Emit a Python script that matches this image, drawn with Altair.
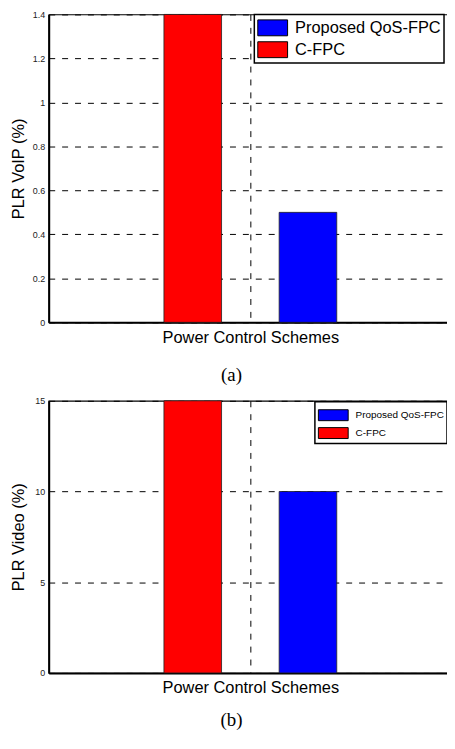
import altair as alt
import pandas as pd

# ---- data ----
schemes = ["Proposed QoS-FPC", "C-FPC"]
colors = ["#0000ff", "#ff0000"]
group = "Power Control Schemes"
plr_voip = [0.5, 1.4]      # PLR VoIP (%)
plr_video = [10, 15]       # PLR Video (%)
voip_ticks = [0, 0.2, 0.4, 0.6, 0.8, 1.0, 1.2, 1.4]
video_ticks = [0, 5, 10, 15]

SANS = "Liberation Sans"
SERIF = "Liberation Serif"
W = 406

df_voip = pd.DataFrame({"group": [group] * 2, "scheme": schemes, "value": plr_voip})
df_video = pd.DataFrame({"group": [group] * 2, "scheme": schemes, "value": plr_video})

order_x = ["C-FPC", "Proposed QoS-FPC"]


def panel(df, ytitle, ydomain, yticks, yfmt, h, leg, caption, cap_off):
    legend = alt.Legend(
        title=None,
        orient="none",
        legendX=leg["x"],
        legendY=leg["y"],
        symbolType=leg["path"],
        symbolSize=400,
        symbolOffset=5,
        symbolStrokeColor="black",
        symbolStrokeWidth=1,
        symbolOpacity=1,
        labelFont=SANS,
        labelFontSize=leg["fs"],
        labelColor="black",
        labelOffset=12,
        rowPadding=leg["rp"],
        padding=leg["pad"],
        strokeColor="black",
        fillColor="white",
    )
    color = alt.Color(
        "scheme:N",
        scale=alt.Scale(domain=schemes, range=colors),
        legend=legend,
    )
    return (
        alt.Chart(df)
        .mark_bar(stroke="#222222", strokeWidth=0.8, opacity=1)
        .encode(
            x=alt.X(
                "group:N",
                scale=alt.Scale(paddingInner=0, paddingOuter=2 / 3),
                axis=alt.Axis(
                    title=group,
                    labels=False,
                    ticks=False,
                    domain=True,
                    domainColor="black",
                    domainWidth=2,
                    grid=True,
                    bandPosition=0.5,
                    gridColor="black",
                    gridDash=[6, 7],
                    gridWidth=1,
                    titleFont=SANS,
                    titleFontSize=16.5,
                    titleFontWeight="normal",
                    titleColor="black",
                    titlePadding=7,
                ),
            ),
            xOffset=alt.XOffset(
                "scheme:N",
                sort=order_x,
                scale=alt.Scale(paddingInner=0.5, paddingOuter=0),
            ),
            y=alt.Y(
                "value:Q",
                scale=alt.Scale(domain=ydomain, nice=False, zero=True),
                axis=alt.Axis(
                    title=ytitle,
                    values=yticks,
                    format=yfmt,
                    ticks=False,
                    domain=True,
                    domainColor="black",
                    domainWidth=2,
                    grid=True,
                    gridColor="black",
                    gridDash=[6, 7],
                    gridWidth=1,
                    labelFont=SANS,
                    labelFontSize=9,
                    labelColor="#222222",
                    labelPadding=4,
                    minExtent=20,
                    maxExtent=20,
                    titleFont=SANS,
                    titleFontSize=16.5,
                    titleFontWeight="normal",
                    titleColor="black",
                    titlePadding=2,
                ),
            ),
            color=color,
        )
        .properties(
            width=W,
            height=h,
            title=alt.TitleParams(
                caption,
                orient="bottom",
                anchor="middle",
                frame="bounds",
                font=SERIF,
                fontSize=19,
                fontWeight="normal",
                color="black",
                offset=cap_off,
            ),
        )
    )


leg_a = {"x": 207, "y": 0, "path": "M-1.5,-0.8H1.5V0.8H-1.5Z", "fs": 16.5, "rp": 1, "pad": 3}
leg_b = {"x": 268, "y": 1, "path": "M-1.5,-0.55H1.5V0.55H-1.5Z", "fs": 10, "rp": -4, "pad": 3}

top = panel(df_voip, "PLR VoIP (%)", [0, 1.4], voip_ticks, ".1~f", 310, leg_a, "(a)", 21)
bottom = panel(df_video, "PLR Video (%)", [0, 15], video_ticks, "d", 274, leg_b, "(b)", 15)

chart = (
    alt.vconcat(top, bottom, spacing=9)
    .resolve_scale(color="independent", y="independent", x="independent")
    .resolve_legend(color="independent")
    .configure_view(stroke="black", strokeWidth=1.2)
    .configure_legend(strokeWidth=1.5)
    .properties(padding={"left": 2, "top": -1, "right": -6, "bottom": 0})
)

chart.save("out.html", embed_options={"renderer": "svg", "actions": False})
